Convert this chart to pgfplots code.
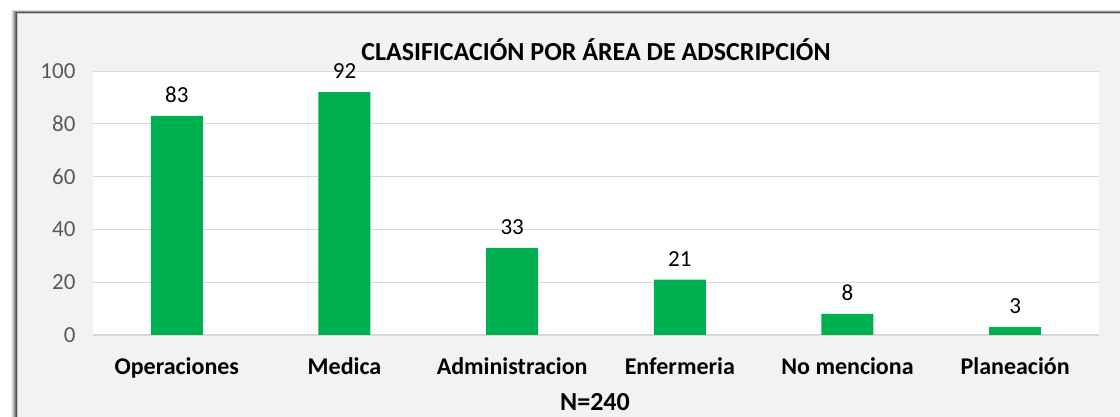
\documentclass[border=0pt]{standalone}
\usepackage{fontspec}
\setmainfont{Carlito}
\usepackage{pgfplots}
\pgfplotsset{compat=1.18}
\definecolor{barg}{HTML}{00B050}
\definecolor{panel}{HTML}{F2F2F2}
\definecolor{gridc}{HTML}{D9D9D9}
\definecolor{ticktxt}{HTML}{595959}

\begin{document}
\begin{tikzpicture}[x=1pt,y=1pt]
\useasboundingbox (0,0) rectangle (1120,417);
\fill[white] (0,0) rectangle (1120,417);
% shadow round the frame
\foreach \d/\o in {6/0.06,5/0.09,4/0.13,3/0.18,2/0.24,1/0.3}{
  \fill[black,opacity=\o] (17-\d,-20) rectangle (1140,404+\d*0.5);
}
\fill[panel] (17,-20) rectangle (1140,404);
\draw[gray!45,line width=0.6pt] (17,-20) -- (17,404) -- (1140,404);
\begin{axis}[
  at={(93pt,82pt)}, anchor=south west,
  scale only axis, width=1006pt, height=264pt,
  xmin=-0.5, xmax=5.5, ymin=0, ymax=100,
  ytick={0,20,...,100},
  xtick=data,
  xticklabels={Operaciones,Medica,Administracion,Enfermeria,No menciona,Planeación},
  x tick label style={font=\fontsize{24}{28}\selectfont\bfseries, yshift=-19pt},
  y tick label style={font=\fontsize{23}{27}\selectfont, text=ticktxt, xshift=-14pt},
  /pgf/number format/assume math mode=true,
  major tick length=0pt,
  axis x line*=bottom, axis y line*=left,
  y axis line style={draw=none},
  x axis line style={gridc, line width=1pt},
  ymajorgrids, grid style={gridc, line width=0.8pt},
  axis background/.style={fill=white},
  ybar, bar width=52pt,
  nodes near coords,
  every node near coord/.append style={font=\fontsize{23}{27}\selectfont, text=black, yshift=10pt},
  clip=false,
]
\addplot[fill=barg, draw=none] coordinates {(0,83) (1,92) (2,33) (3,21) (4,8) (5,3)};
\end{axis}
\node[font=\fontsize{26}{30}\selectfont\bfseries] at (596,367) {CLASIFICACIÓN POR ÁREA DE ADSCRIPCIÓN};
\node[font=\fontsize{26}{30}\selectfont\bfseries] at (595,15) {N=240};
\end{tikzpicture}
\end{document}
